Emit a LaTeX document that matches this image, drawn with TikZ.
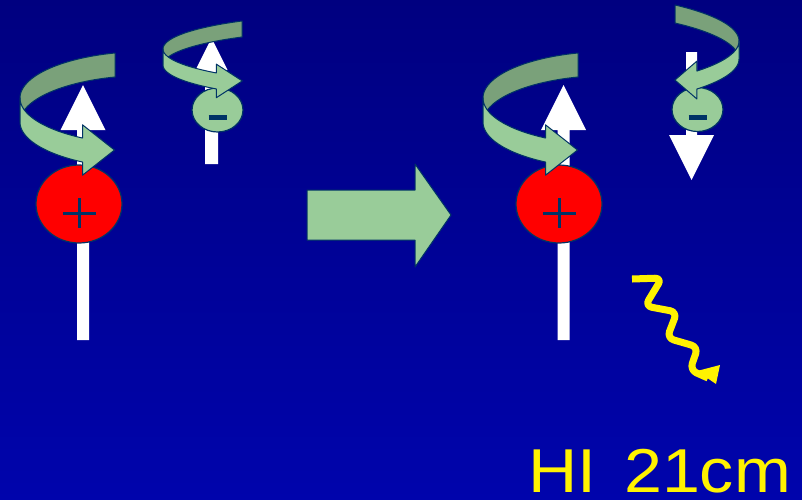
\documentclass[tikz,border=0pt]{standalone}
\usepackage{fontspec}
\setmainfont{Liberation Sans}
\usetikzlibrary{shapes.geometric}

\definecolor{spinback}{RGB}{122,161,122}
\definecolor{spinfront}{RGB}{153,204,153}
\definecolor{rimblue}{RGB}{0,51,102}
\definecolor{skytop}{RGB}{0,0,128}
\definecolor{skybottom}{RGB}{0,4,172}

\tikzset{
  proton/.style={ellipse, draw=rimblue, line width=1.2pt, fill=red,
    minimum width=86pt, minimum height=78pt, inner sep=0pt},
  electron/.style={ellipse, draw=rimblue, line width=1.2pt, fill=spinfront,
    minimum width=51pt, minimum height=44pt, inner sep=0pt},
  ribbon/.style={draw=rimblue, line width=1pt, line join=round},
  sign/.style={draw=rimblue, line width=3pt},
  photon/.style={draw=yellow, line width=7pt, rounded corners=7pt, line join=round},
}

% white spin vector: x, foot, head base, tip, shaft half width, head half width
\newcommand{\spinvector}[6]{%
  \fill[white] (#1-#5,#2) -- (#1-#5,#3) -- (#1-#6,#3) -- (#1,#4)
    -- (#1+#6,#3) -- (#1+#5,#3) -- (#1+#5,#2) -- cycle;
}

% spin ribbon: centre x/y, radii, drop per degree, half width,
% turning sense (+1/-1), end angle, length of the head
\newcommand{\spinribbon}[9]{%
  \pgfmathsetmacro\xe{#1+(#7)*#3*cos(#8)}
  \pgfmathsetmacro\ye{#2-#4*sin(#8)+#5*(#8-90)}
  \pgfmathsetmacro\xt{\xe+(#7)*#9}
  % back half
  \filldraw[fill=spinback,ribbon]
    plot[domain=90:180,variable=\t,samples=30] ({#1+(#7)*#3*cos(\t)},{#2-#4*sin(\t)+#5*(\t-90)-#6})
    -- plot[domain=180:90,variable=\t,samples=30] ({#1+(#7)*#3*cos(\t)},{#2-#4*sin(\t)+#5*(\t-90)+#6})
    -- cycle;
  % front half with the head
  \filldraw[fill=spinfront,ribbon]
    plot[domain=180:#8,variable=\t,samples=30] ({#1+(#7)*#3*cos(\t)},{#2-#4*sin(\t)+#5*(\t-90)-#6})
    -- (\xe,{\ye-2.1*#6}) -- (\xt,\ye) -- (\xe,{\ye+2.1*#6})
    -- plot[domain=#8:180,variable=\t,samples=30] ({#1+(#7)*#3*cos(\t)},{#2-#4*sin(\t)+#5*(\t-90)+#6})
    -- cycle;
}

\begin{document}
\begin{tikzpicture}[x=1pt,y=-1pt]
\useasboundingbox (0,0) rectangle (802,499);
\shade[top color=skytop,bottom color=skybottom] (0,0) rectangle (802,499);

% nuclear and electron spin vectors
\spinvector{83}{340}{130}{85}{6}{22.5}
\spinvector{563.5}{340}{130}{85}{6}{22.5}
\spinvector{211.5}{164}{70}{38}{6.5}{16}
\spinvector{691.5}{52}{135}{180}{5.5}{22.5}

% particles
\node[proton] (p1) at (79,204) {};
\node[proton] (p2) at (559,204) {};
\node[electron] (e1) at (217.5,110) {};
\node[electron] (e2) at (697.5,109.5) {};

\foreach \p in {p1,p2} {
  \draw[sign] ([shift={(-16.5,9)}]\p.center) -- ([shift={(16.5,9)}]\p.center);
  \draw[sign] ([shift={(0,-6)}]\p.center) -- ([shift={(0,24)}]\p.center);
}
\foreach \e in {e1,e2}
  \draw[rimblue,line width=5pt] ([shift={(-9,7.5)}]\e.center) -- ([shift={(9,7.5)}]\e.center);

% spins
\spinribbon{115}{95.8}{95}{30.8}{0.158}{12}{1}{250}{32}
\spinribbon{578}{95.8}{95}{30.8}{0.158}{12}{1}{250}{32}
\spinribbon{242}{40.8}{79}{11.8}{0.18}{8}{1}{251}{26}
\spinribbon{675}{26.6}{64}{12.6}{0.26}{9}{-1}{250}{22}

% spin flip
\filldraw[fill=spinfront,ribbon] (307,190) -- (415,190) -- (415,164) -- (451,215)
  -- (415,267) -- (415,240) -- (307,240) -- cycle;

% emitted photon
\draw[photon] (632,279) -- (662,278) -- (645,306) -- (677,312) -- (667,338)
  -- (698,347) -- (690,370) -- (708,378);
\fill[yellow] (697,371) -- (720,365) -- (716,384) -- cycle;

\node[anchor=base west, text=yellow, inner sep=0pt, xscale=1.1,
  font=\fontsize{62}{62}\selectfont] (hi) at (528,492) {HI\hspace{8pt} 21cm};
\end{tikzpicture}
\end{document}
